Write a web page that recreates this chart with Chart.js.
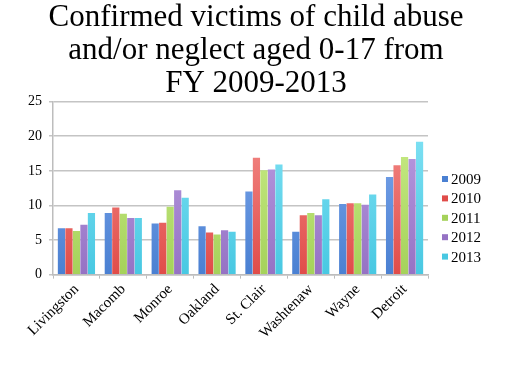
<!DOCTYPE html>
<html>
<head>
<meta charset="utf-8">
<script src="https://cdn.jsdelivr.net/npm/chart.js@4/dist/chart.umd.min.js"></script>
<style>
  html, body { margin: 0; padding: 0; background: #fff; }
  #wrap { width: 512px; height: 384px; }
</style>
</head>
<body>
<div id="wrap"><canvas id="chart" width="512" height="384"></canvas></div>
<script>
// counties / city
const counties = ['Livingston', 'Macomb', 'Monroe', 'Oakland', 'St. Clair', 'Washtenaw', 'Wayne', 'Detroit'];
const years = ['2009', '2010', '2011', '2012', '2013'];

// victims per year
const fy2009 = [6.7, 8.9, 7.4, 7.0, 12.0, 6.2, 10.2, 14.1];
const fy2010 = [6.7, 9.7, 7.5, 6.1, 16.9, 8.6, 10.3, 15.8];
const fy2011 = [6.3, 8.8, 9.8, 5.8, 15.1, 8.9, 10.3, 17.0];
const fy2012 = [7.2, 8.2, 12.2, 6.4, 15.2, 8.6, 10.1, 16.7];
const fy2013 = [8.9, 8.2, 11.1, 6.2, 15.9, 10.9, 11.6, 19.2];

const yTicks = [0, 5, 10, 15, 20, 25];
const titleLines = ['Confirmed victims of child abuse', 'and/or neglect aged 0-17 from', 'FY 2009-2013'];

// base colour + lighter top shade for each year
const colors = ['#4a80d2', '#e04c49', '#a5d25a', '#9572c4', '#48c8e2'];
const lightColors = ['#86aef0', '#f79592', '#cff08f', '#c0a4e6', '#8ae6f7'];
const seriesValues = [fy2009, fy2010, fy2011, fy2012, fy2013];

const serif = "'Liberation Serif', 'DejaVu Serif', serif";

function barFill(i) {
    return function(context) {
        const area = context.chart.chartArea;
        if (!area) return colors[i];
        const g = context.chart.ctx.createLinearGradient(0, area.top, 0, area.bottom);
        g.addColorStop(0, lightColors[i]);
        g.addColorStop(1, colors[i]);
        return g;
    };
}

function makeDatasets() {
    return years.map(function(y, i) {
        return {
            label: y,
            data: seriesValues[i],
            backgroundColor: barFill(i),
            borderWidth: 0,
            barPercentage: 0.96,
            categoryPercentage: 0.8
        };
    });
}

// legend drawn at the right, like the original slide
const sideLegend = {
    id: 'sideLegend',
    afterDraw: function(chart) {
        const ctx = chart.ctx;
        const x = chart.chartArea.right + 14;
        let y = 179;
        ctx.save();
        ctx.font = '15px ' + serif;
        ctx.textBaseline = 'middle';
        chart.data.datasets.forEach(function(ds, i) {
            ctx.fillStyle = colors[i];
            ctx.fillRect(x, y - 3, 6, 6);
            ctx.fillStyle = '#000';
            ctx.fillText(ds.label, x + 9, y + 1);
            y += 19.4;
        });
        ctx.restore();
    }
};

new Chart(document.getElementById('chart').getContext('2d'), {
    type: 'bar',
    data: {
        labels: counties,
        datasets: makeDatasets()
    },
    plugins: [sideLegend],
    options: {
        responsive: false,
        animation: false,
        layout: {
            padding: { left: 0, right: 0, top: 0, bottom: 40 }
        },
        plugins: {
            title: {
                display: true,
                text: titleLines,
                color: '#000',
                font: { family: serif, size: 31, weight: 'normal', lineHeight: 1.05 },
                padding: { top: 2, bottom: 2 }
            },
            legend: { display: false },
            tooltip: { enabled: false }
        },
        scales: {
            x: {
                grid: {
                    display: true,
                    drawOnChartArea: false,
                    drawTicks: true,
                    tickLength: 4,
                    color: '#bdbdbd',
                    offset: true
                },
                border: { color: '#bdbdbd', width: 1.5 },
                ticks: {
                    color: '#000',
                    font: { family: serif, size: 15 },
                    minRotation: 45,
                    maxRotation: 45,
                    padding: 2
                }
            },
            y: {
                min: 0,
                max: 25,
                grid: {
                    color: '#c4c4c4',
                    lineWidth: 1.5,
                    tickLength: 4
                },
                border: { color: '#bdbdbd', width: 1.5 },
                afterBuildTicks: function(axis) {
                    axis.ticks = yTicks.map(function(v) { return { value: v }; });
                },
                afterFit: function(axis) {
                    axis.width = 53;
                },
                ticks: {
                    color: '#000',
                    font: { family: serif, size: 14 },
                    padding: 7
                }
            },
            // empty axis that only keeps room for the side legend
            side: {
                type: 'linear',
                position: 'right',
                display: true,
                grid: { display: false },
                border: { display: false },
                ticks: { display: false },
                afterFit: function(axis) {
                    axis.width = 84;
                }
            }
        }
    }
});
</script>
</body>
</html>
